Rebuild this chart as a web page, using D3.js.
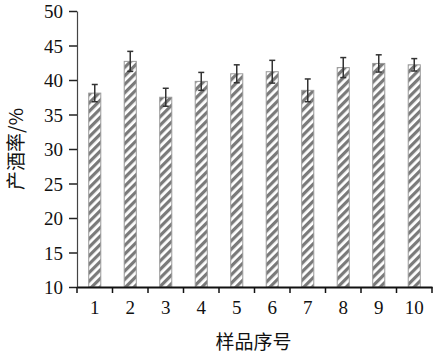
<!DOCTYPE html>
<html>
<head>
<meta charset="utf-8">
<script src="https://cdn.jsdelivr.net/npm/d3@7"></script>
<style>
  body { margin: 0; background: #fff; }
</style>
</head>
<body>
<div id="chart"></div>
<script>
// sample numbers and alcohol yield (%) with error
const samples = ['1', '2', '3', '4', '5', '6', '7', '8', '9', '10'];
const yieldVals = [38.1, 42.7, 37.5, 39.8, 40.9, 41.2, 38.5, 41.8, 42.4, 42.2];
const yieldErr = [1.25, 1.45, 1.3, 1.3, 1.3, 1.65, 1.65, 1.45, 1.25, 0.9];
const yTicks = [10, 15, 20, 25, 30, 35, 40, 45, 50];

const width = 433, height = 354;
const margin = { top: 11, right: 1, bottom: 67, left: 77 };
const innerW = width - margin.left - margin.right;
const innerH = height - margin.top - margin.bottom;
const serif = '"Liberation Serif", "DejaVu Serif", "Times New Roman", serif';

const svg = d3.select('#chart').append('svg')
  .attr('width', width)
  .attr('height', height);

// diagonal stripe fill
const pat = svg.append('defs').append('pattern')
  .attr('id', 'stripes')
  .attr('patternUnits', 'userSpaceOnUse')
  .attr('width', 6)
  .attr('height', 6)
  .attr('patternTransform', 'rotate(-45)');
pat.append('rect').attr('width', 6).attr('height', 6).attr('fill', '#fff');
pat.append('rect').attr('width', 6).attr('height', 3.2).attr('fill', '#7a7a7a');

const plot = svg.append('g')
  .attr('transform', `translate(${margin.left},${margin.top})`);

const x = d3.scaleBand().domain(samples).range([0, innerW]).paddingInner(0.66).paddingOuter(0.33);
const y = d3.scaleLinear().domain([10, 50]).range([innerH, 0]);

// bars
plot.selectAll('.bar')
  .data(samples)
  .enter().append('rect')
    .attr('class', 'bar')
    .attr('x', d => x(d))
    .attr('width', x.bandwidth())
    .attr('y', (d, i) => y(yieldVals[i]))
    .attr('height', (d, i) => y(10) - y(yieldVals[i]))
    .attr('fill', 'url(#stripes)')
    .attr('stroke', '#9a9a9a')
    .attr('stroke-width', 1);

// error bars
const eb = plot.selectAll('.err')
  .data(samples)
  .enter().append('g')
    .attr('class', 'err')
    .attr('stroke', '#333')
    .attr('stroke-width', 1.5);
eb.append('line')
  .attr('x1', d => x(d) + x.bandwidth() / 2)
  .attr('x2', d => x(d) + x.bandwidth() / 2)
  .attr('y1', (d, i) => y(yieldVals[i] - yieldErr[i]))
  .attr('y2', (d, i) => y(yieldVals[i] + yieldErr[i]));
eb.append('line')
  .attr('x1', d => x(d) + x.bandwidth() / 2 - 3)
  .attr('x2', d => x(d) + x.bandwidth() / 2 + 3)
  .attr('y1', (d, i) => y(yieldVals[i] + yieldErr[i]))
  .attr('y2', (d, i) => y(yieldVals[i] + yieldErr[i]));
eb.append('line')
  .attr('x1', d => x(d) + x.bandwidth() / 2 - 3)
  .attr('x2', d => x(d) + x.bandwidth() / 2 + 3)
  .attr('y1', (d, i) => y(yieldVals[i] - yieldErr[i]))
  .attr('y2', (d, i) => y(yieldVals[i] - yieldErr[i]));

// y axis
const yAxis = plot.append('g')
  .call(d3.axisLeft(y).tickValues(yTicks).tickSize(8).tickPadding(6).tickSizeOuter(0))
  .attr('font-family', serif)
  .attr('font-size', 19);
yAxis.select('.domain').attr('stroke', '#444').attr('stroke-width', 1.2);
yAxis.selectAll('.tick line').attr('stroke', '#222').attr('stroke-width', 1.5);
yAxis.selectAll('.tick text').attr('dy', '0.36em').attr('fill', '#111');

// x axis: ticks at category boundaries
const xAxis = plot.append('g')
  .attr('transform', `translate(0,${innerH})`)
  .call(d3.axisBottom(x).tickSize(0).tickPadding(14))
  .attr('font-family', serif)
  .attr('font-size', 19);
xAxis.select('.domain').attr('stroke', '#111').attr('stroke-width', 2);
xAxis.selectAll('.tick text').attr('dy', '0.71em').attr('fill', '#111');
const step = x.step();
plot.append('g')
  .selectAll('line')
  .data(d3.range(samples.length + 1))
  .enter().append('line')
    .attr('x1', i => i * step)
    .attr('x2', i => i * step)
    .attr('y1', innerH)
    .attr('y2', innerH + 6)
    .attr('stroke', '#111')
    .attr('stroke-width', 1.5);

// axis titles
svg.append('text')
  .attr('x', margin.left + innerW / 2 - 1)
  .attr('y', 349)
  .attr('text-anchor', 'middle')
  .attr('font-family', '"Noto Sans CJK SC", sans-serif')
  .attr('font-size', 19)
  .attr('fill', '#111')
  .text('样品序号');

svg.append('text')
  .attr('transform', `translate(23,${margin.top + innerH / 2}) rotate(-90)`)
  .attr('text-anchor', 'middle')
  .attr('font-family', '"Noto Sans CJK SC", sans-serif')
  .attr('font-size', 19)
  .attr('fill', '#111')
  .text('产酒率/%');
</script>
</body>
</html>
